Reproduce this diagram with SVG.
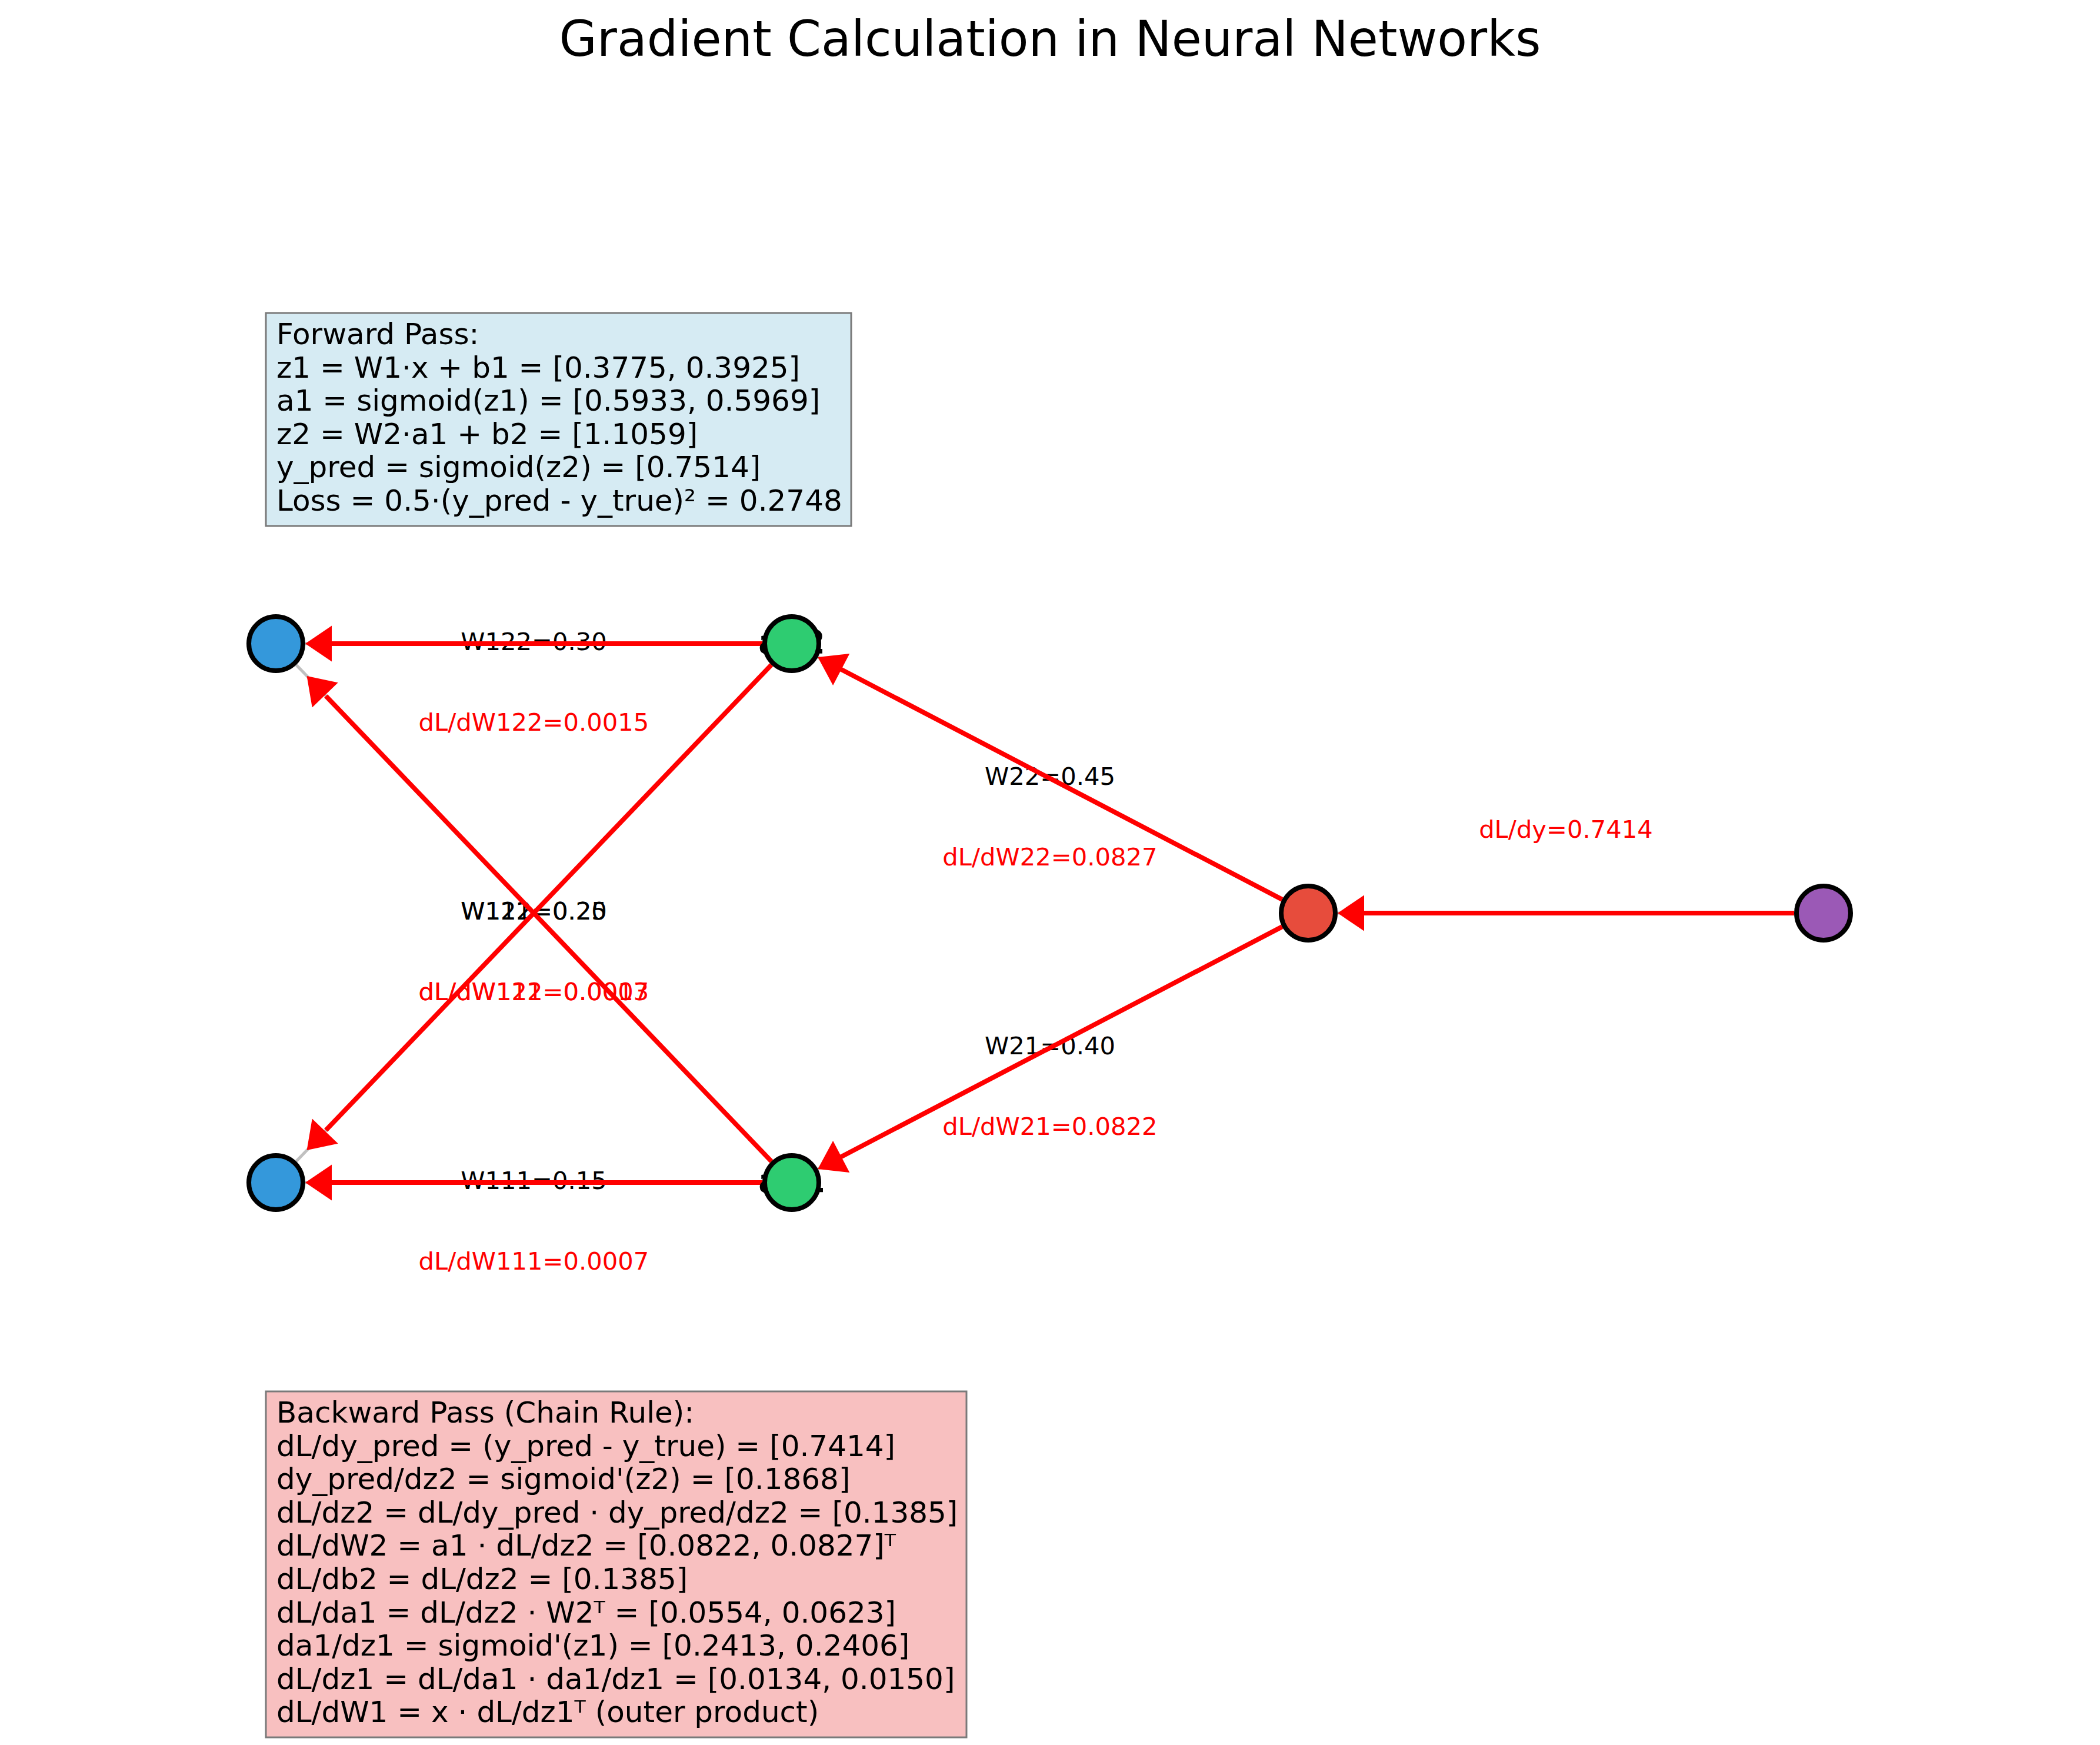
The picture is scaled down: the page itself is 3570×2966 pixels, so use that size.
<svg xmlns="http://www.w3.org/2000/svg" width="3570" height="2966" viewBox="0 0 3570 2966">
<style>
text{font-family:"DejaVu Sans","Liberation Sans",sans-serif;}
.title{font-size:83px;fill:#000;text-anchor:middle;}
.box{font-size:50px;fill:#000;}
.wl{font-size:41.7px;fill:#000;text-anchor:middle;}
.gl{font-size:41.7px;fill:#ff0000;text-anchor:middle;}
.nl{font-size:55px;font-weight:bold;fill:#000;text-anchor:middle;}
.node{stroke:#000;stroke-width:8;}
.fwd{stroke:#c0c0c0;stroke-width:5;fill:none;}
.bwd{stroke:#ff0000;stroke-width:8;fill:none;}
.head{fill:#ff0000;stroke:none;}
</style>
<rect width="3570" height="2966" fill="#ffffff"/>
<text class="title" x="1785" y="95">Gradient Calculation in Neural Networks</text>

<g id="forward-box">
<rect x="452" y="532" width="995" height="362" fill="#d6ebf3" stroke="#7a7a7a" stroke-width="3"/>
<text class="box" x="470" y="585">Forward Pass:</text>
<text class="box" x="470" y="641.6">z1 = W1·x + b1 = [0.3775, 0.3925]</text>
<text class="box" x="470" y="698.2">a1 = sigmoid(z1) = [0.5933, 0.5969]</text>
<text class="box" x="470" y="754.8">z2 = W2·a1 + b2 = [1.1059]</text>
<text class="box" x="470" y="811.4">y_pred = sigmoid(z2) = [0.7514]</text>
<text class="box" x="470" y="868">Loss = 0.5·(y_pred - y_true)² = 0.2748</text>
</g>

<g id="backward-box">
<rect x="452" y="2365" width="1191" height="588" fill="#f8c0c0" stroke="#7a7a7a" stroke-width="3"/>
<text class="box" x="470" y="2418">Backward Pass (Chain Rule):</text>
<text class="box" x="470" y="2474.6">dL/dy_pred = (y_pred - y_true) = [0.7414]</text>
<text class="box" x="470" y="2531.2">dy_pred/dz2 = sigmoid'(z2) = [0.1868]</text>
<text class="box" x="470" y="2587.8">dL/dz2 = dL/dy_pred · dy_pred/dz2 = [0.1385]</text>
<text class="box" x="470" y="2644.4">dL/dW2 = a1 · dL/dz2 = [0.0822, 0.0827]ᵀ</text>
<text class="box" x="470" y="2701">dL/db2 = dL/dz2 = [0.1385]</text>
<text class="box" x="470" y="2757.6">dL/da1 = dL/dz2 · W2ᵀ = [0.0554, 0.0623]</text>
<text class="box" x="470" y="2814.2">da1/dz1 = sigmoid'(z1) = [0.2413, 0.2406]</text>
<text class="box" x="470" y="2870.8">dL/dz1 = dL/da1 · da1/dz1 = [0.0134, 0.0150]</text>
<text class="box" x="470" y="2927.4">dL/dW1 = x · dL/dz1ᵀ (outer product)</text>
</g>

<g id="edge-labels">
<text class="wl" x="907.5" y="1105">W122=0.30</text>
<text class="gl" x="907.5" y="1242">dL/dW122=0.0015</text>
<text class="wl" x="907.5" y="1563">W112=0.20</text>
<text class="wl" x="907.5" y="1563">W121=0.25</text>
<text class="gl" x="907.5" y="1700">dL/dW112=0.0013</text>
<text class="gl" x="907.5" y="1700">dL/dW121=0.0007</text>
<text class="wl" x="907.5" y="2021">W111=0.15</text>
<text class="gl" x="907.5" y="2158">dL/dW111=0.0007</text>
<text class="wl" x="1785" y="1334">W22=0.45</text>
<text class="gl" x="1785" y="1471">dL/dW22=0.0827</text>
<text class="wl" x="1785" y="1792">W21=0.40</text>
<text class="gl" x="1785" y="1929">dL/dW21=0.0822</text>
<text class="gl" x="2662" y="1424">dL/dy=0.7414</text>
</g>

<g id="connectors">
<line class="fwd" x1="469" y1="1094" x2="1346" y2="1094"/>
<line class="fwd" x1="469" y1="2010" x2="1346" y2="2010"/>
<line class="fwd" x1="469" y1="1094" x2="1346" y2="2010"/>
<line class="fwd" x1="469" y1="2010" x2="1346" y2="1094"/>
<line class="fwd" x1="1346" y1="1094" x2="2224" y2="1552"/>
<line class="fwd" x1="1346" y1="2010" x2="2224" y2="1552"/>
<line class="fwd" x1="2224" y1="1552" x2="3100" y2="1552"/>

<line class="bwd" x1="1296" y1="1094" x2="562" y2="1094"/>
<polygon class="head" points="519,1094 564,1063.5 564,1124.5"/>
<line class="bwd" x1="1296" y1="2010" x2="562" y2="2010"/>
<polygon class="head" points="519,2010 564,1979.5 564,2040.5"/>
<line class="bwd" x1="1311.4" y1="1973.9" x2="554" y2="1183"/>
<polygon class="head" points="521.6,1148.9 574.7,1160.3 530.7,1202.5"/>
<line class="bwd" x1="1311.4" y1="1130.1" x2="554" y2="1921"/>
<polygon class="head" points="521.6,1955.1 574.7,1943.7 530.7,1901.5"/>
<line class="bwd" x1="2179.7" y1="1528.9" x2="1428" y2="1136.8"/>
<polygon class="head" points="1390.3,1117.1 1416.1,1164.9 1444.3,1110.9"/>
<line class="bwd" x1="2179.7" y1="1575.1" x2="1428" y2="1967.2"/>
<polygon class="head" points="1390.3,1986.9 1444.3,1993.1 1416.1,1939.1"/>
<line class="bwd" x1="3050" y1="1552" x2="2317" y2="1552"/>
<polygon class="head" points="2274,1552 2319,1521.5 2319,1582.5"/>
</g>

<g id="node-x2">
<circle class="node" cx="469" cy="1094" r="46" fill="#3498db"/>
</g>
<g id="node-x1">
<circle class="node" cx="469" cy="2010" r="46" fill="#3498db"/>
</g>
<g id="node-h2">
<text class="nl" x="1346" y="1110">a12</text>
<circle class="node" cx="1346" cy="1094" r="46" fill="#2ecc71"/>
</g>
<g id="node-h1">
<text class="nl" x="1346" y="2026">a11</text>
<circle class="node" cx="1346" cy="2010" r="46" fill="#2ecc71"/>
</g>
<g id="node-y">
<circle class="node" cx="2224" cy="1552" r="46" fill="#e74c3c"/>
</g>
<g id="node-loss">
<circle class="node" cx="3100" cy="1552" r="46" fill="#9b59b6"/>
</g>
</svg>
